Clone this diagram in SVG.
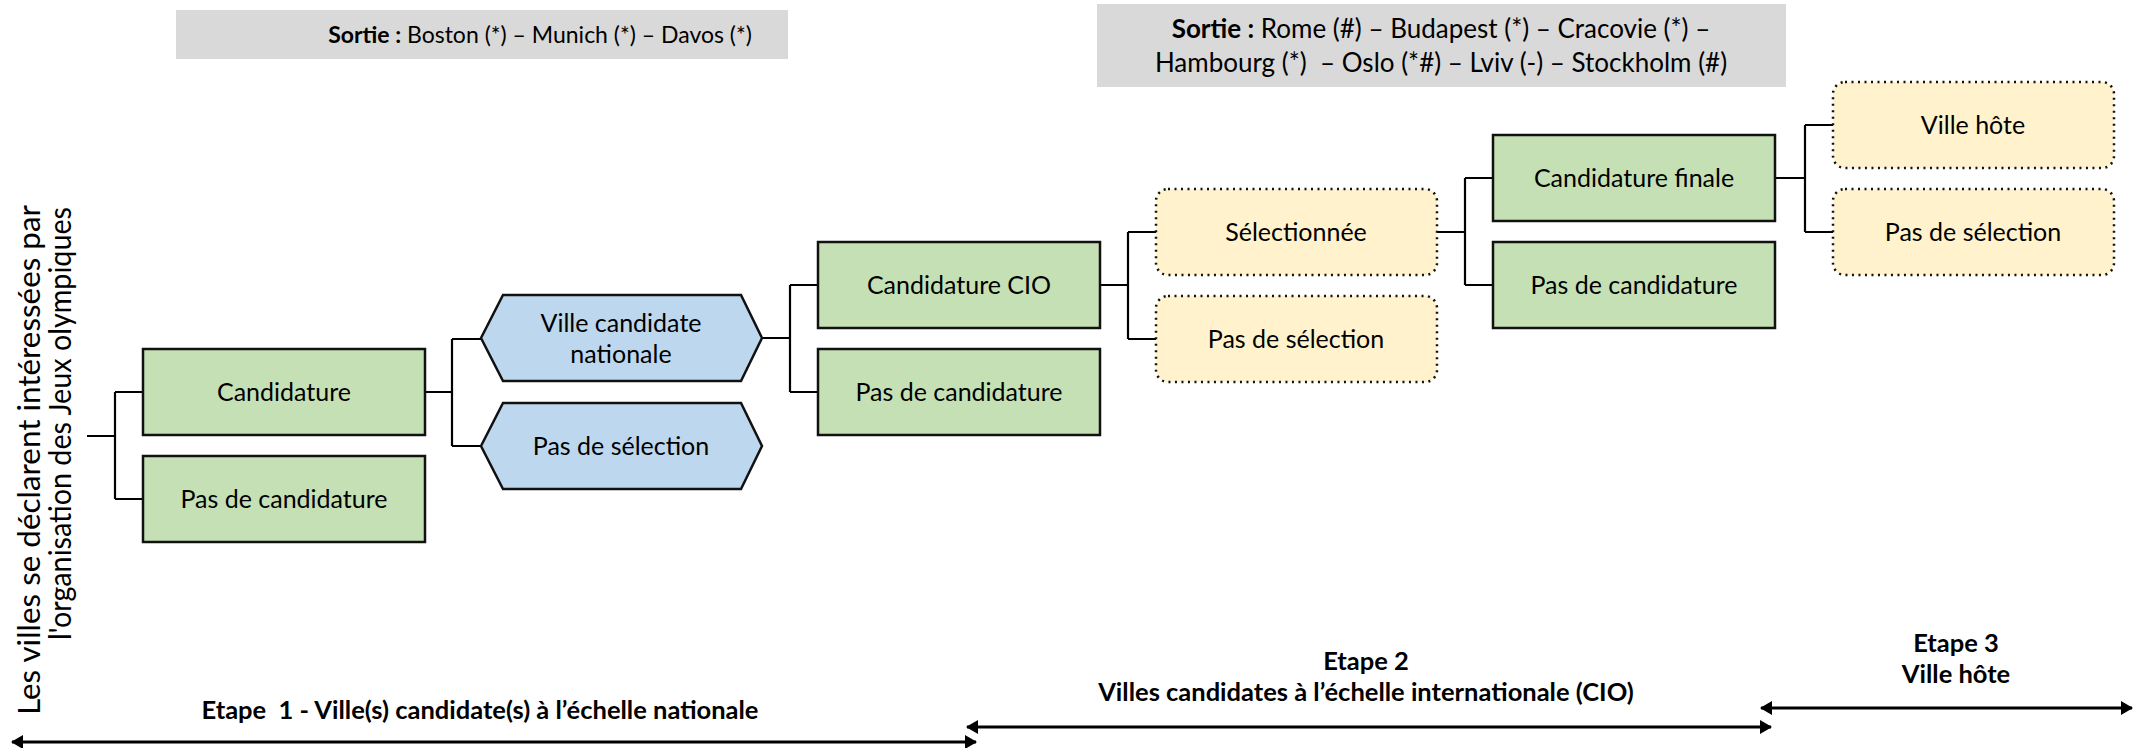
<svg xmlns="http://www.w3.org/2000/svg" width="2134" height="748" viewBox="0 0 2134 748">
<style>
text{font-family:Lato,"Liberation Sans",sans-serif;fill:#000}
.lbl{font-size:25px;text-anchor:middle}
.b{font-weight:bold}
.green{fill:#C5E0B4;stroke:#111;stroke-width:2.5}
.blue{fill:#BDD7EE;stroke:#111;stroke-width:2.5}
.yellow{fill:#FFF2CC;stroke:#111;stroke-width:2.5;stroke-dasharray:2 4.5}
.gray{fill:#D9D9D9}
.con{fill:none;stroke:#000;stroke-width:2.2}
.arr{stroke:#000;stroke-width:3;marker-start:url(#ah);marker-end:url(#ah)}
.step{font-size:25.5px;font-weight:bold;text-anchor:middle}
.sort{text-anchor:middle}
</style>
<defs>
<marker id="ah" viewBox="0 0 12 14" refX="11" refY="7" markerWidth="12" markerHeight="14" markerUnits="userSpaceOnUse" orient="auto-start-reverse">
<path d="M0,0 L12,7 L0,14 Z" fill="#000"/>
</marker>
</defs>

<g id="sortie1">
<rect class="gray" x="176" y="10" width="612" height="49"/>
<text class="sort" x="540" y="43" font-size="23"><tspan class="b">Sortie :</tspan> Boston (*) – Munich (*) – Davos (*)</text>
</g>
<g id="sortie2">
<rect class="gray" x="1097" y="4" width="689" height="83"/>
<text class="sort" x="1441" y="38" font-size="26"><tspan class="b">Sortie :</tspan> Rome (#) – Budapest (*) – Cracovie (*) –</text>
<text class="sort" x="1441" y="72" font-size="26" xml:space="preserve">Hambourg (*)  – Oslo (*#) – Lviv (-) – Stockholm (#)</text>
</g>

<g id="intro">
<text x="0" y="0" font-size="31" transform="translate(40,715) rotate(-90)" textLength="510" lengthAdjust="spacingAndGlyphs">Les villes se déclarent intéressées par</text>
<text x="0" y="0" font-size="31" transform="translate(71,640) rotate(-90)" textLength="433" lengthAdjust="spacingAndGlyphs">l'organisation des Jeux olympiques</text>
</g>

<g id="connectors">
<path class="con" d="M87,436 H115 M115,392 V499 M115,392 H143 M115,499 H143"/>
<path class="con" d="M425,392 H452 M452,339 V446 M452,339 H481 M452,446 H481"/>
<path class="con" d="M762,338 H790 M790,285 V392 M790,285 H818 M790,392 H818"/>
<path class="con" d="M1100,285 H1128 M1128,232 V339 M1128,232 H1156 M1128,339 H1156"/>
<path class="con" d="M1437,232 H1465 M1465,178 V285 M1465,178 H1493 M1465,285 H1493"/>
<path class="con" d="M1775,178 H1805 M1805,125 V232 M1805,125 H1833 M1805,232 H1833"/>
<line class="arr" x1="12" y1="742" x2="976" y2="742"/>
<line class="arr" x1="967" y1="727" x2="1771" y2="727"/>
<line class="arr" x1="1761" y1="708" x2="2132" y2="708"/>
</g>

<g id="candidature">
<rect class="green" x="143" y="349" width="282" height="86"/>
<text class="lbl" x="284" y="401">Candidature</text>
</g>
<g id="pas-candidature-1">
<rect class="green" x="143" y="456" width="282" height="86"/>
<text class="lbl" x="284" y="508">Pas de candidature</text>
</g>
<g id="ville-candidate-nationale">
<polygon class="blue" points="481,338 503,295 741,295 762,338 741,381 503,381"/>
<text class="lbl" x="621" y="332">Ville candidate</text>
<text class="lbl" x="621" y="363">nationale</text>
</g>
<g id="pas-selection-1">
<polygon class="blue" points="481,446 503,403 741,403 762,446 741,489 503,489"/>
<text class="lbl" x="621" y="455">Pas de sélection</text>
</g>
<g id="candidature-cio">
<rect class="green" x="818" y="242" width="282" height="86"/>
<text class="lbl" x="959" y="294">Candidature CIO</text>
</g>
<g id="pas-candidature-2">
<rect class="green" x="818" y="349" width="282" height="86"/>
<text class="lbl" x="959" y="401">Pas de candidature</text>
</g>
<g id="selectionnee">
<rect class="yellow" x="1156" y="189" width="281" height="86" rx="12"/>
<text class="lbl" x="1296" y="241">Sélectionnée</text>
</g>
<g id="pas-selection-2">
<rect class="yellow" x="1156" y="296" width="281" height="86" rx="12"/>
<text class="lbl" x="1296" y="348">Pas de sélection</text>
</g>
<g id="candidature-finale">
<rect class="green" x="1493" y="135" width="282" height="86"/>
<text class="lbl" x="1634" y="187">Candidature finale</text>
</g>
<g id="pas-candidature-3">
<rect class="green" x="1493" y="242" width="282" height="86"/>
<text class="lbl" x="1634" y="294">Pas de candidature</text>
</g>
<g id="ville-hote">
<rect class="yellow" x="1833" y="82" width="281" height="86" rx="12"/>
<text class="lbl" x="1973" y="134">Ville hôte</text>
</g>
<g id="pas-selection-3">
<rect class="yellow" x="1833" y="189" width="281" height="86" rx="12"/>
<text class="lbl" x="1973" y="241">Pas de sélection</text>
</g>

<g id="etapes">
<text class="step" x="480" y="718.5" xml:space="preserve">Etape  1 - Ville(s) candidate(s) à l’échelle nationale</text>
<text class="step" x="1366" y="669.5">Etape 2</text>
<text class="step" x="1366" y="700.5">Villes candidates à l’échelle internationale (CIO)</text>
<text class="step" x="1956" y="652" font-size="27">Etape 3</text>
<text class="step" x="1956" y="683" font-size="27">Ville hôte</text>
</g>
</svg>
